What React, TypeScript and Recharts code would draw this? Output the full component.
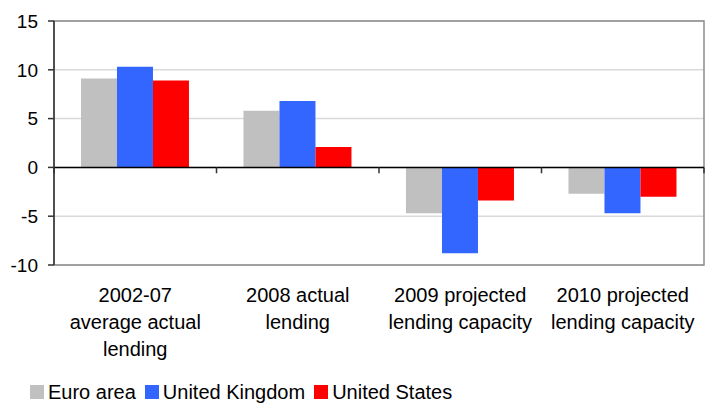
import { BarChart, Bar, XAxis, YAxis, CartesianGrid, Legend, ReferenceLine, ReferenceArea } from "recharts"

// categories and series values
const categories = [
  "2002-07|average actual|lending",
  "2008 actual|lending",
  "2009 projected|lending capacity",
  "2010 projected|lending capacity",
]
const euroArea = [9.1, 5.8, -4.7, -2.7]
const unitedKingdom = [10.3, 6.8, -8.8, -4.7]
const unitedStates = [8.9, 2.1, -3.4, -3.0]
const yTicks = [-10, -5, 0, 5, 10, 15]
const boundaries = [0, 1, 2, 3, 4]

const series = [
  { key: "euro", name: "Euro area", color: "#c0c0c0" },
  { key: "uk", name: "United Kingdom", color: "#3366ff" },
  { key: "us", name: "United States", color: "#ff0000" },
]

// slot = middle of each category on a 0..n number line, used for the boundary ticks
const data = categories.map((name, i) => ({
  name,
  slot: i + 0.5,
  euro: euroArea[i],
  uk: unitedKingdom[i],
  us: unitedStates[i],
}))

const font = "'Liberation Sans', Arial, sans-serif"

const CategoryTick = (props: any) => {
  const { x, y, payload } = props
  const lines = String(payload.value).split("|")
  return (
    <text x={x} y={y + 29} textAnchor="middle" fontSize={20} fontFamily={font} fill="#000">
      {lines.map((line, i) => (
        <tspan key={i} x={x} dy={i === 0 ? 0 : 27}>
          {line}
        </tspan>
      ))}
    </text>
  )
}

const LegendContent = () => (
  <div style={{ display: "flex", alignItems: "center", paddingLeft: 30, paddingTop: 17, fontFamily: font, fontSize: 20, lineHeight: "20px", color: "#000" }}>
    {series.map((s) => (
      <div key={s.key} style={{ display: "flex", alignItems: "center", marginRight: 9 }}>
        <span style={{ width: 14, height: 14, background: s.color, display: "inline-block", marginRight: 4 }} />
        <span>{s.name}</span>
      </div>
    ))}
  </div>
)

export default function App() {
  return (
    <div style={{ position: "absolute", left: 0, top: 0, width: 712, height: 403, background: "#fff" }}>
      <BarChart
        width={712}
        height={403}
        data={data}
        margin={{ top: 21, right: 8, left: 0, bottom: 0 }}
        barCategoryGap="16.6%"
        barGap={0}
      >
        <CartesianGrid vertical={false} stroke="#d9d9d9" strokeWidth={1.5} />
        <XAxis xAxisId="cat" dataKey="name" height={100} axisLine={false} tickLine={false} tick={<CategoryTick />} interval={0} />
        <XAxis xAxisId="num" dataKey="slot" type="number" domain={[0, categories.length]} allowDataOverflow hide />
        <YAxis
          width={54}
          domain={[-10, 15]}
          ticks={yTicks}
          interval={0}
          tickSize={6}
          tickMargin={10}
          axisLine={{ stroke: "#333", strokeWidth: 1.5 }}
          tickLine={{ stroke: "#333", strokeWidth: 1.5 }}
          tick={{ fill: "#000", fontSize: 19, fontFamily: font }}
        />
        <ReferenceArea xAxisId="num" x1={0} x2={categories.length} y1={-10} y2={15} fill="none" stroke="#8c8c8c" strokeWidth={1.5} ifOverflow="visible" />
        {series.map((s) => (
          <Bar key={s.key} xAxisId="cat" dataKey={s.key} name={s.name} fill={s.color} isAnimationActive={false} />
        ))}
        <ReferenceLine xAxisId="num" y={0} stroke="#000" strokeWidth={1.5} />
        {boundaries.map((b) => (
          <ReferenceLine
            key={b}
            xAxisId="num"
            segment={[{ x: b, y: 0 }, { x: b, y: -0.6 }]}
            stroke="#333"
            strokeWidth={1.5}
            ifOverflow="visible"
          />
        ))}
        <Legend verticalAlign="bottom" height={38} content={<LegendContent />} />
      </BarChart>
    </div>
  )
}
